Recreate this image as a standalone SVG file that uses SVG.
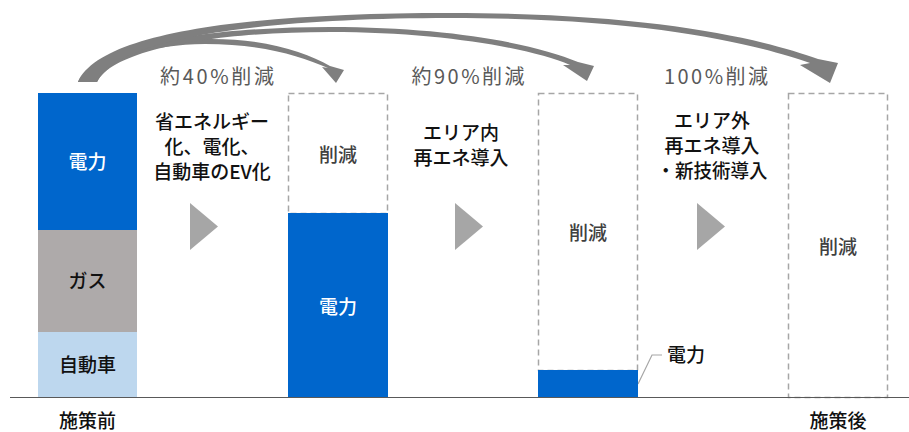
<svg xmlns="http://www.w3.org/2000/svg" width="909" height="432" viewBox="0 0 909 432">
<style>
text{font-family:"Noto Sans CJK JP","Noto Sans",sans-serif;font-size:19px;text-anchor:middle;font-weight:500}
.w{fill:#ffffff}
.k{fill:#111111}
.g{fill:#595959;font-size:20px;font-weight:normal}
.r{fill:#404040}
.dash{fill:none;stroke:#a6a6a6;stroke-width:1.5;stroke-dasharray:6 4}
.tri{fill:#a6a6a6}
.arr{fill:#7f7f7f}
</style>
<rect width="909" height="432" fill="#ffffff"/>
<g id="connectors">
<path class="arr" d="M78 82 C95 52 150 40 205 39 C265 38 305 52 330 66 L344 70 L336 83 L322 67 L328 68 C300 56 262 44 205 44 C150 45 112 56 97 82 Z"/>
<path class="arr" d="M78 82 C100 42 220 27 330 27 C450 27 535 44 578 62 L594 66 L587 81 L563 65 L570 65 C530 48 440 32 330 32 C225 32 115 47 97 82 Z"/>
<path class="arr" d="M78 82 C100 32 250 13 450 13 C650 13 760 38 818 59 L838 63 L830 83 L800 65 L810 63 C755 44 650 18 450 18 C255 18 112 40 97 82 Z"/>
<polygon class="tri" points="190,203 218,226.5 190,250"/>
<polygon class="tri" points="455,203 483,226.5 455,250"/>
<polygon class="tri" points="697,203 725,226.5 697,250"/>
<polyline points="638,384 652,355 662,355" fill="none" stroke="#a6a6a6" stroke-width="1.2"/>
</g>
<g id="bar-before">
<rect x="38" y="93" width="99" height="137" fill="#0066cc"/>
<rect x="38" y="230" width="99" height="102" fill="#aeaaaa"/>
<rect x="38" y="332" width="99" height="65" fill="#bdd7ee"/>
<text class="w" x="87.5" y="169">電力</text>
<text class="k" x="87.5" y="288">ガス</text>
<text class="k" x="87.5" y="372">自動車</text>
</g>
<g id="bar-40">
<rect class="dash" x="288.5" y="93.5" width="99" height="120"/>
<rect x="288" y="213" width="100" height="184" fill="#0066cc"/>
<text class="r" x="338" y="162">削減</text>
<text class="w" x="338" y="314">電力</text>
</g>
<g id="bar-90">
<rect class="dash" x="538.5" y="93.5" width="99" height="277"/>
<rect x="538" y="370" width="100" height="27" fill="#0066cc"/>
<text class="r" x="588" y="240">削減</text>
<text class="k" x="667" y="362" style="text-anchor:start">電力</text>
</g>
<g id="bar-after">
<rect class="dash" x="788.5" y="93.5" width="99" height="304"/>
<text class="r" x="838" y="254">削減</text>
</g>
<g id="labels">
<text class="g" x="217" y="84" textLength="114" lengthAdjust="spacing">約40%削減</text>
<text class="g" x="468" y="84" textLength="113" lengthAdjust="spacing">約90%削減</text>
<text class="g" x="716" y="84" textLength="104" lengthAdjust="spacing">100%削減</text>
<text class="k" x="212" y="129">省エネルギー</text>
<text class="k" x="212" y="154">化、電化、</text>
<text class="k" x="212" y="179">自動車のEV化</text>
<text class="k" x="461" y="140">エリア内</text>
<text class="k" x="461" y="165">再エネ導入</text>
<text class="k" x="712" y="128">エリア外</text>
<text class="k" x="712" y="153">再エネ導入</text>
<text class="k" x="712" y="178" textLength="111" lengthAdjust="spacingAndGlyphs">・新技術導入</text>
<text class="k" x="87.5" y="428">施策前</text>
<text class="k" x="838" y="428">施策後</text>
</g>
<line x1="10" y1="397.5" x2="909" y2="397.5" stroke="#595959" stroke-width="1.2"/>
</svg>
